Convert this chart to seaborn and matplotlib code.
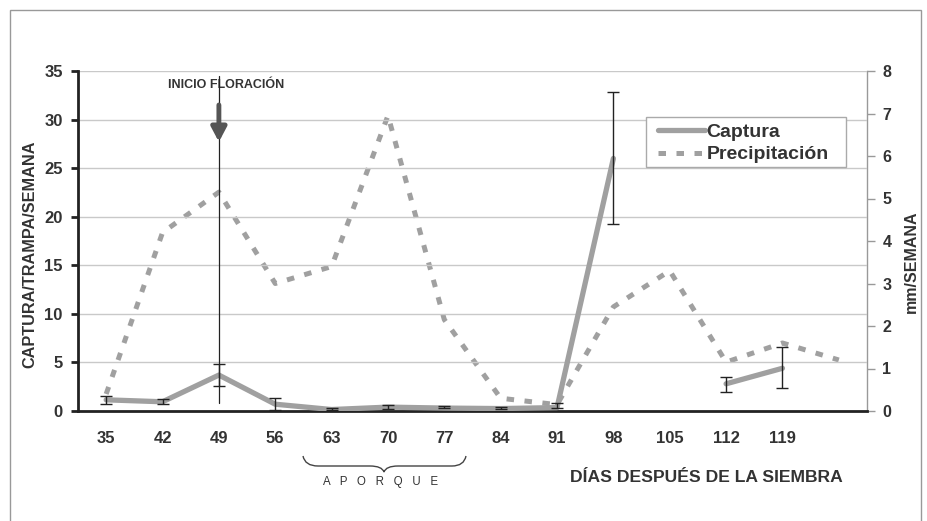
import numpy as np
import pandas as pd
import matplotlib
matplotlib.use("Agg")
import matplotlib.pyplot as plt
from matplotlib.path import Path
from matplotlib.patches import PathPatch, Rectangle
import seaborn as sns

# ---------------- data ----------------
dias = ["35", "42", "49", "56", "63", "70", "77", "84", "91", "98", "105", "112", "119", ""]
captura = [1.15, 0.95, 3.7, 0.7, 0.15, 0.4, 0.3, 0.25, 0.35, 26.0, np.nan, 2.8, 4.4]
captura_lo = [0.75, 0.75, 2.6, 0.15, 0.1, 0.2, 0.3, 0.25, 0.35, 19.3, np.nan, 2.0, 2.4]
captura_hi = [1.55, 1.25, 4.8, 1.35, 0.3, 0.6, 0.5, 0.45, 0.8, 32.8, np.nan, 3.5, 6.6]
precipitacion = [0.4, 4.2, 5.15, 3.0, 3.4, 6.95, 2.15, 0.3, 0.15, 2.45, 3.3, 1.15, 1.6, 1.2]
left_ticks = [0, 5, 10, 15, 20, 25, 30, 35]
right_ticks = [0, 1, 2, 3, 4, 5, 6, 7, 8]

W, H = 927, 521
sns.set_style("white")
plt.rcParams["font.family"] = ["Liberation Sans", "DejaVu Sans"]
plt.rcParams["font.weight"] = "bold"
TXT = "#333333"
LINE = "#a0a0a0"
DASH = (0, (1.5, 2.1))

fig = plt.figure(figsize=(W / 100, H / 100), dpi=100)
ax = fig.add_axes([78 / W, 1 - 411 / H, (867 - 78) / W, (411 - 71) / H])
ax2 = ax.twinx()

pos_c = np.arange(len(captura))
df_c = pd.DataFrame({"x": pos_c, "y": captura, "lo": captura_lo, "hi": captura_hi})
df_c["seg"] = np.where(df_c["x"] < 10, 0, 1)
df_p = pd.DataFrame({"x": np.arange(len(precipitacion)), "y": precipitacion})

# gridlines
for t in left_ticks[1:]:
    ax.axhline(t, color="#c9c9c9", lw=1.0, zorder=0)

# captura line segments (gap at 105)
for s, g in df_c.dropna().groupby("seg"):
    sns.lineplot(data=g, x="x", y="y", ax=ax, color=LINE, lw=3.8, zorder=3, legend=False)
dd = df_c.dropna()
ax.errorbar(dd["x"], dd["y"], yerr=[dd["y"] - dd["lo"], dd["hi"] - dd["y"]],
            fmt="none", ecolor="#222222", elinewidth=1.0, capsize=4, capthick=1.0, zorder=4)

# precipitation
sns.lineplot(data=df_p, x="x", y="y", ax=ax2, color=LINE, lw=3.6,
             linestyle=DASH, legend=False, zorder=2)

# axes limits / ticks
ax.set_xlim(-0.5, len(dias) - 0.5)
ax.set_ylim(0, 35)
ax2.set_ylim(0, 8)
ax.set_xticks(np.arange(-0.5, len(dias)))
ax.set_xticklabels([])
ax.set_xticks(np.arange(len(dias) - 1), minor=True)
ax.set_xticklabels(dias[:-1], minor=True)
ax.tick_params(axis="x", which="major", length=6, width=2, color="#222222", direction="out")
ax.tick_params(axis="x", which="minor", length=0, pad=14.5, labelsize=12, labelcolor=TXT)
ax.set_yticks(left_ticks)
ax.tick_params(axis="y", length=5, width=2, color="#222222", pad=6, labelsize=12, labelcolor=TXT)
ax2.set_yticks(right_ticks)
ax2.tick_params(axis="y", length=6, width=1, color="#999999", pad=5, labelsize=11.5, labelcolor=TXT)
ax.set_xlabel("")
ax.set_ylabel("")
ax2.set_ylabel("")

for sp in ["top", "right"]:
    ax.spines[sp].set_visible(False)
for sp in ["top", "left", "bottom"]:
    ax2.spines[sp].set_visible(False)
ax.spines["left"].set_color("#222222")
ax.spines["left"].set_linewidth(2)
ax.spines["bottom"].set_color("#222222")
ax.spines["bottom"].set_linewidth(2)
ax2.spines["right"].set_color("#999999")
ax2.spines["right"].set_linewidth(1)
ax.set_zorder(ax2.get_zorder() + 1)
ax.patch.set_visible(False)

# annotation: inicio floración
ax.axvline(2, ymin=0.8 / 35, ymax=34.5 / 35, color="#222222", lw=0.9, zorder=5)
ax.annotate("", xy=(2, 27.7), xytext=(2, 31.5),
            arrowprops=dict(arrowstyle="-|>,head_width=0.45,head_length=0.85",
                            lw=3.5, color="#555555", shrinkA=0, shrinkB=0), zorder=6)
ax.text(2.12, 33.6, "INICIO FLORACIÓN", ha="center", va="center", fontsize=9, color=TXT)

# legend
h_c = plt.Line2D([], [], color=LINE, lw=3.8)
h_p = plt.Line2D([], [], color=LINE, lw=3.6, linestyle=DASH)
ax.add_patch(Rectangle((646 / W, 1 - 167 / H), 200 / W, 50 / H, transform=fig.transFigure,
                       clip_on=False, facecolor="white", edgecolor="#aaaaaa", lw=1, zorder=8))
leg = ax.legend([h_c, h_p], ["Captura", "Precipitación"], loc="upper left",
                bbox_to_anchor=(656 / W, 1 - 121 / H), bbox_transform=fig.transFigure,
                borderaxespad=0, fontsize=14, frameon=False,
                handlelength=2.4, handletextpad=0.1, borderpad=0.1, labelspacing=0.27)
for t in leg.get_texts():
    t.set_color(TXT)
leg.set_zorder(10)

# axis titles
fig.text(30 / W, 1 - 254 / H, "CAPTURA/TRAMPA/SEMANA", rotation=90, ha="center", va="center",
         fontsize=11.7, color=TXT)
fig.text(911 / W, 1 - 262 / H, "mm/SEMANA", rotation=90, ha="center", va="center",
         fontsize=11.5, color=TXT)
fig.text(706 / W, 1 - 477 / H, "DÍAS DESPUÉS DE LA SIEMBRA", ha="center", va="center",
         fontsize=12.6, color=TXT)
fig.text(381 / W, 1 - 482 / H, "A   P   O   R   Q   U   E", ha="center", va="center",
         fontsize=8.3, fontweight="normal", color=TXT)

# brace
def P(x, y):
    return (x / W, 1 - y / H)

verts = [P(303, 456), P(305, 466), P(318, 466), P(370, 466), P(382, 466), P(384, 472),
         P(386, 466), P(398, 466), P(452, 466), P(464, 466), P(466, 456)]
codes = [Path.MOVETO, Path.CURVE3, Path.CURVE3, Path.LINETO, Path.CURVE3, Path.CURVE3,
         Path.CURVE3, Path.CURVE3, Path.LINETO, Path.CURVE3, Path.CURVE3]
fig.add_artist(PathPatch(Path(verts, codes), transform=fig.transFigure, fill=False,
                         edgecolor="#444444", lw=1))

# outer frame
fig.add_artist(Rectangle((10 / W, -0.05), 911 / W, (H - 10) / H + 0.05, transform=fig.transFigure,
                         fill=False, edgecolor="#999999", lw=1))

fig.savefig("out.png", dpi=100)
